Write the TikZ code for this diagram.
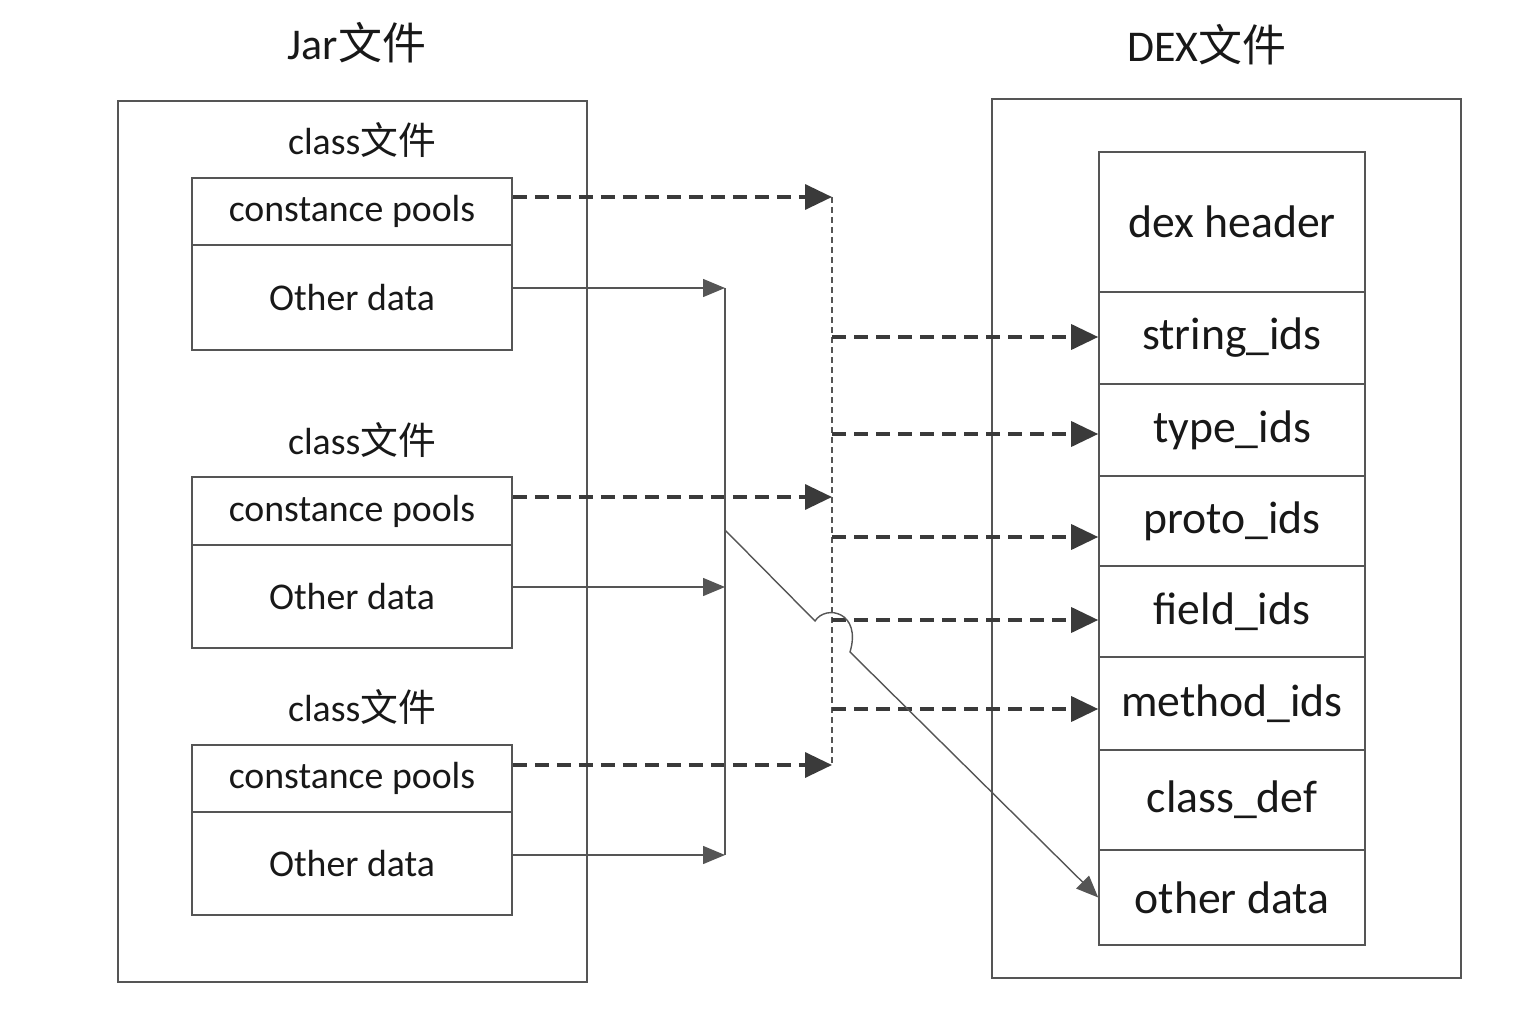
\documentclass[tikz,border=0pt]{standalone}
\usepackage{fontspec}
\setmainfont{Carlito}
\newfontfamily\cjk{Noto Sans CJK SC}
\usetikzlibrary{arrows.meta,calc}
\definecolor{boxgray}{HTML}{555555}
\definecolor{linegray}{HTML}{555555}
\definecolor{dashgray}{HTML}{3A3A3A}
\definecolor{textdark}{HTML}{181818}

\begin{document}
\begin{tikzpicture}[x=0.2mm, y=-0.2mm,
    title/.style={text=textdark, font=\fontsize{25}{30}\selectfont},
    clstitle/.style={text=textdark, font=\fontsize{21.5}{26}\selectfont},
    outerbox/.style={draw=boxgray, line width=0.9pt},
    jarrow/.style={draw=boxgray, line width=0.9pt, minimum width=64mm, inner sep=0pt, text=textdark, font=\fontsize{21.5}{26}\selectfont},
    dexrow/.style={draw=boxgray, line width=0.9pt, minimum width=53.2mm, inner sep=0pt, text=textdark, font=\fontsize{26}{30}\selectfont},
    dasharrow/.style={draw=dashgray, line width=2pt, dash pattern=on 2.8mm off 1.6mm, -{Triangle[length=5.4mm,width=5mm]}},
    thinarrow/.style={draw=linegray, line width=0.8pt, -{Triangle[length=4.4mm,width=3.6mm]}},
    thinline/.style={draw=linegray, line width=0.8pt},
    busline/.style={draw=linegray, line width=0.6pt, dash pattern=on 1.2mm off 0.8mm}]
    \useasboundingbox (0,0) rectangle (1536,1022);

    % Jar file
    \node[title] (jartitle) at (357,43) {Jar{\cjk 文件}};
    \draw[outerbox] (118,101) rectangle (587,982);
    \node[clstitle] (cls1) at (362,140) {class{\cjk 文件}};
    \node[jarrow, minimum height=13.4mm] (cp1) at (352,211.5) {constance pools};
    \node[jarrow, minimum height=21mm] (od1) at (352,297.5) {Other data};
    \node[clstitle] (cls2) at (362,440) {class{\cjk 文件}};
    \node[jarrow, minimum height=13.6mm] (cp2) at (352,511) {constance pools};
    \node[jarrow, minimum height=20.6mm] (od2) at (352,596.5) {Other data};
    \node[clstitle] (cls3) at (362,707) {class{\cjk 文件}};
    \node[jarrow, minimum height=13.4mm] (cp3) at (352,778.5) {constance pools};
    \node[jarrow, minimum height=20.6mm] (od3) at (352,863.5) {Other data};

    % DEX file
    \node[title] (dextitle) at (1207,45) {DEX{\cjk 文件}};
    \draw[outerbox] (992,99) rectangle (1461,978);
    \node[dexrow, minimum height=28mm] (dhead) at (1232,222) {dex header};
    \node[dexrow, minimum height=18.4mm] (sids) at (1232,338) {string\_ids};
    \node[dexrow, minimum height=18.4mm] (tids) at (1232,430) {type\_ids};
    \node[dexrow, minimum height=18mm] (pids) at (1232,521) {proto\_ids};
    \node[dexrow, minimum height=18.2mm] (fids) at (1232,611.5) {field\_ids};
    \node[dexrow, minimum height=18.6mm] (mids) at (1232,703.5) {method\_ids};
    \node[dexrow, minimum height=20mm] (cdef) at (1232,800) {class\_def};
    \node[dexrow, minimum height=19mm] (odat) at (1232,897.5) {other data};

    % constance pools -> bus
    \coordinate (h1) at (832,197);
    \coordinate (h2) at (832,497);
    \coordinate (h3) at (832,765);
    \draw[dasharrow] (cp1.east |- h1) -- (h1);
    \draw[dasharrow] (cp2.east |- h2) -- (h2);
    \draw[dasharrow] (cp3.east |- h3) -- (h3);
    \draw[busline] (h1) -- (h3);

    % bus -> id tables
    \coordinate (t1) at (832,337);
    \coordinate (t2) at (832,434);
    \coordinate (t3) at (832,537);
    \coordinate (t4) at (832,620);
    \coordinate (t5) at (832,709);
    \draw[dasharrow] (t1) -- (t1 -| sids.west);
    \draw[dasharrow] (t2) -- (t2 -| tids.west);
    \draw[dasharrow] (t3) -- (t3 -| pids.west);
    \draw[dasharrow] (t4) -- (t4 -| fids.west);
    \draw[dasharrow] (t5) -- (t5 -| mids.west);

    % other data -> other data
    \coordinate (s1) at (725,288);
    \coordinate (s2) at (725,587);
    \coordinate (s3) at (725,855);
    \coordinate (s0) at (725,530);
    \draw[thinarrow] (od1.east |- s1) -- (s1);
    \draw[thinarrow] (od2.east |- s2) -- (s2);
    \draw[thinarrow] (od3.east |- s3) -- (s3);
    \draw[thinline] (s1) -- (s3);
    \draw[thinarrow] (s0) -- (815,621) .. controls (826,604) and (862,612) .. (850,652) -- (odat.west);
\end{tikzpicture}
\end{document}
